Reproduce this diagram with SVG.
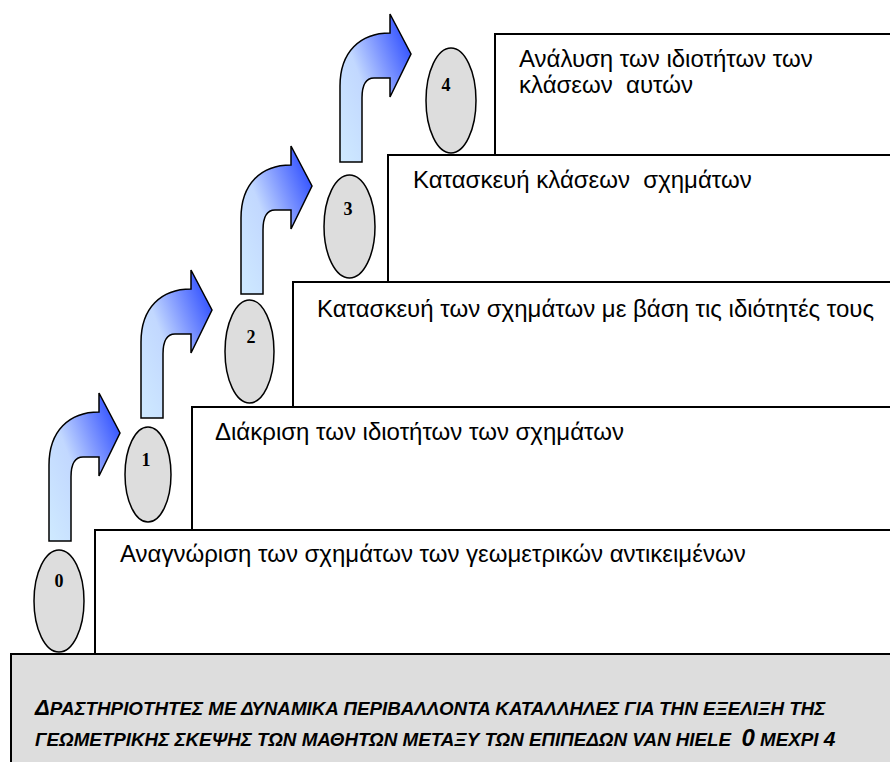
<svg xmlns="http://www.w3.org/2000/svg" width="890" height="762" viewBox="0 0 890 762">
<style>
.box{fill:#ffffff;stroke:#000000;stroke-width:2}
.base{fill:#dddddd;stroke:#000000;stroke-width:2}
.ell{fill:#dddddd;stroke:#000000;stroke-width:1.5}
.num{font-family:"Liberation Serif","Times New Roman",serif;font-weight:bold;font-size:18px;text-anchor:middle;fill:#000}
.lbl{font-family:"Liberation Sans",Arial,sans-serif;font-size:24px;fill:#000;white-space:pre}
.bt{font-family:"Liberation Sans",Arial,sans-serif;font-size:18.8px;font-weight:bold;font-style:italic;fill:#000;white-space:pre}
.arr{fill:url(#ag);stroke:#000000;stroke-width:1.5;stroke-linejoin:miter}
</style>
<defs>
<linearGradient id="ag" x1="0" y1="1" x2="1" y2="0.2">
<stop offset="0" stop-color="#cfeaff"/>
<stop offset="0.45" stop-color="#c2d8ff"/>
<stop offset="0.7" stop-color="#8098ff"/>
<stop offset="1" stop-color="#3050ff"/>
</linearGradient>
<path id="arrow" d="M0,148 L0,72 C0,38 20,19 50,19 L50,0 L71,40 L50,83 L50,64 L34,64 C26,64 22,70 22,84 L22,148 Z"/>
</defs>
<rect width="890" height="762" fill="#ffffff"/>
<g id="base">
<rect class="base" x="11" y="654" width="900" height="120"/>
<text class="bt" x="35" y="715"><tspan font-size="22">Δ</tspan>ΡΑΣΤΗΡΙΟΤΗΤΕΣ ΜΕ ΔΥΝΑΜΙΚΑ ΠΕΡΙΒΑΛΛΟΝΤΑ ΚΑΤΑΛΛΗΛΕΣ ΓΙΑ ΤΗΝ ΕΞΕΛΙΞΗ ΤΗΣ</text>
<text class="bt" x="35" y="746">ΓΕΩΜΕΤΡΙΚΗΣ ΣΚΕΨΗΣ ΤΩΝ ΜΑΘΗΤΩΝ ΜΕΤΑΞΥ ΤΩΝ ΕΠΙΠΕΔΩΝ VAN HIELE  <tspan font-size="24">0</tspan> ΜΕΧΡΙ <tspan font-size="21">4</tspan></text>
</g>
<g id="level0">
<rect class="box" x="95" y="530" width="820" height="124"/>
<text class="lbl" x="120" y="562">Αναγνώριση των σχημάτων των γεωμετρικών αντικειμένων</text>
</g>
<g id="level1">
<rect class="box" x="192" y="407" width="720" height="123"/>
<text class="lbl" x="215" y="440">Διάκριση των ιδιοτήτων των σχημάτων</text>
</g>
<g id="level2">
<rect class="box" x="293" y="282" width="620" height="125"/>
<text class="lbl" x="317" y="317">Κατασκευή των σχημάτων με βάση τις ιδιότητές τους</text>
</g>
<g id="level3">
<rect class="box" x="388" y="155" width="520" height="127"/>
<text class="lbl" x="413" y="188">Κατασκευή κλάσεων  σχημάτων</text>
</g>
<g id="level4">
<rect class="box" x="495" y="34" width="420" height="121"/>
<text class="lbl" x="519" y="67">Ανάλυση των ιδιοτήτων των</text>
<text class="lbl" x="519" y="93">κλάσεων  αυτών</text>
</g>
<g id="n0"><ellipse class="ell" cx="59" cy="601" rx="25" ry="51"/><text class="num" x="59" y="587">0</text></g>
<g id="n1"><ellipse class="ell" cx="148" cy="474.5" rx="23" ry="47.5"/><text class="num" x="146" y="466">1</text></g>
<g id="n2"><ellipse class="ell" cx="249.5" cy="351.5" rx="24.5" ry="51.5"/><text class="num" x="251" y="343">2</text></g>
<g id="n3"><ellipse class="ell" cx="349.5" cy="226.5" rx="25.5" ry="51.5"/><text class="num" x="348" y="215">3</text></g>
<g id="n4"><ellipse class="ell" cx="451" cy="100.5" rx="25" ry="52.5"/><text class="num" x="446" y="91">4</text></g>
<g id="connectors">
<use href="#arrow" class="arr" x="49" y="393"/>
<use href="#arrow" class="arr" x="141" y="270"/>
<use href="#arrow" class="arr" x="241" y="146"/>
<use href="#arrow" class="arr" x="340" y="14"/>
</g>
</svg>
